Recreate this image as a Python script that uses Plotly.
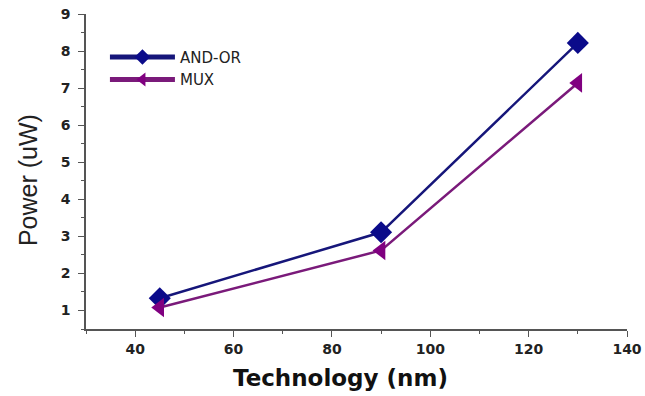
import plotly.graph_objects as go

tech = [45, 90, 130]
and_or = [1.33, 3.11, 8.22]
mux = [1.08, 2.62, 7.14]

fig = go.Figure()
fig.add_trace(go.Scatter(x=tech, y=and_or, name="AND-OR", mode="lines+markers",
                         line=dict(color="#16167a", width=2.5),
                         marker=dict(symbol="diamond", size=17, color="#0b0b8a")))
fig.add_trace(go.Scatter(x=tech, y=mux, name="MUX", mode="lines+markers",
                         line=dict(color="#7a1a7a", width=2.5),
                         marker=dict(symbol="triangle-left", size=17, color="#800080")))

axis_common = dict(showline=True, linecolor="#555", linewidth=1.5, ticks="outside",
                   ticklen=6, tickcolor="#555", showgrid=False, zeroline=False,
                   automargin=False, ticklabeloverflow="allow",
                   tickfont=dict(family="DejaVu Sans", size=14, color="#222", weight="bold"))

fig.update_layout(
    width=645, height=396, paper_bgcolor="white", plot_bgcolor="white",
    margin=dict(l=86, r=18, t=14, b=67),
    xaxis=dict(range=[30, 140], tickvals=[40, 60, 80, 100, 120, 140],
               minor=dict(dtick=10, tick0=0, ticks="outside", ticklen=3, tickcolor="#555"),
               **axis_common),
    yaxis=dict(range=[0.5, 9], tickvals=list(range(1, 10)), ticklabelstandoff=5,
               minor=dict(dtick=0.5, tick0=0, ticks="outside", ticklen=3, tickcolor="#555"),
               **axis_common),
    legend=dict(x=0.035, y=0.915, xanchor="left", yanchor="top",
                font=dict(family="DejaVu Sans", size=15, color="#222"),
                bgcolor="rgba(0,0,0,0)", tracegroupgap=0, itemwidth=65,
                itemsizing="constant"),
    showlegend=True,
    annotations=[
        dict(text="Technology (nm)", xref="paper", yref="paper", x=0.471, y=-0.156,
             xanchor="center", yanchor="middle", showarrow=False,
             font=dict(family="DejaVu Sans", size=23, color="#111", weight="bold")),
        dict(text="Power (uW)", xref="paper", yref="paper", x=-0.107, y=0.473,
             xanchor="center", yanchor="middle", showarrow=False, textangle=-90,
             font=dict(family="Liberation Sans, Arial", size=25, color="#222")),
    ],
)

fig.write_html("out.html", config={"displayModeBar": False},
               post_script="document.body.style.margin='0';document.body.style.overflow='hidden';")
